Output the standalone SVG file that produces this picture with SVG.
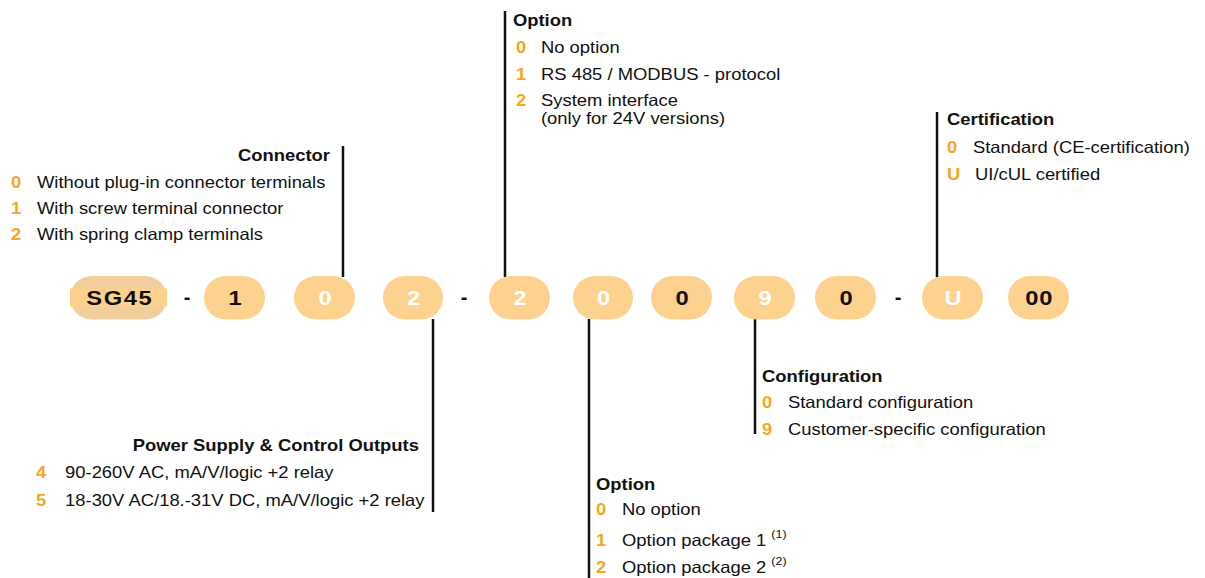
<svg xmlns="http://www.w3.org/2000/svg" width="1205" height="578" viewBox="0 0 1205 578">
<style>
text{font-family:"Liberation Sans",Arial,sans-serif;fill:#111}
.t{font-size:16.3px}
.h{font-size:16.3px;font-weight:bold}
.n{font-size:16.3px;font-weight:bold;fill:#F5A81E}
.sup{font-size:11px}
.pill{fill:#FDD28F}
.pt{font-size:21px;font-weight:bold;text-anchor:middle}
.w{fill:#fff}
.k{fill:#111}
.dash{font-size:20px;font-weight:bold;text-anchor:middle}
.ln{stroke:#111;stroke-width:2.5;fill:none}
</style>
<rect width="1205" height="578" fill="#fff"/>

<g id="connectors">
<line class="ln" x1="343" y1="146" x2="343" y2="277"/>
<line class="ln" x1="433" y1="319" x2="433" y2="512"/>
<line class="ln" x1="505" y1="11" x2="505" y2="277"/>
<line class="ln" x1="589" y1="319" x2="589" y2="578"/>
<line class="ln" x1="755" y1="319" x2="755" y2="434"/>
<line class="ln" x1="937" y1="112" x2="937" y2="277"/>
</g>

<g id="code">
<g id="pill-sg45">
<rect x="70" y="276" width="97" height="43.5" rx="21.75" fill="#F2CE9D"/>
<rect x="70" y="288.5" width="97" height="18" fill="#FDD18C"/>
<text class="pt k" transform="translate(119.8,305) scale(1.13,1)" style="letter-spacing:1.4px">SG45</text>
</g>
<text class="dash" x="187" y="304">-</text>
<g id="pill-1"><rect class="pill" x="204" y="276" width="61" height="43.5" rx="21.75"/><text class="pt k" transform="translate(235,305) scale(1.13,1)">1</text></g>
<g id="pill-2"><rect class="pill" x="294" y="276" width="61" height="43.5" rx="21.75"/><text class="pt w" transform="translate(325,305) scale(1.13,1)">0</text></g>
<g id="pill-3"><rect class="pill" x="383" y="276" width="60" height="43.5" rx="21.75"/><text class="pt w" transform="translate(413.5,305) scale(1.13,1)">2</text></g>
<text class="dash" x="464" y="304">-</text>
<g id="pill-4"><rect class="pill" x="489" y="276" width="61" height="43.5" rx="21.75"/><text class="pt w" transform="translate(520,305) scale(1.13,1)">2</text></g>
<g id="pill-5"><rect class="pill" x="573" y="276" width="60" height="43.5" rx="21.75"/><text class="pt w" transform="translate(603.5,305) scale(1.13,1)">0</text></g>
<g id="pill-6"><rect class="pill" x="651" y="276" width="61" height="43.5" rx="21.75"/><text class="pt k" transform="translate(682,305) scale(1.13,1)">0</text></g>
<g id="pill-7"><rect class="pill" x="734" y="276" width="61" height="43.5" rx="21.75"/><text class="pt w" transform="translate(765,305) scale(1.13,1)">9</text></g>
<g id="pill-8"><rect class="pill" x="815" y="276" width="61" height="43.5" rx="21.75"/><text class="pt k" transform="translate(846,305) scale(1.13,1)">0</text></g>
<text class="dash" x="898" y="304">-</text>
<g id="pill-9"><rect class="pill" x="922" y="276" width="61" height="43.5" rx="21.75"/><text class="pt w" transform="translate(953,305) scale(1.13,1)">U</text></g>
<g id="pill-10"><rect class="pill" x="1008" y="276" width="61" height="43.5" rx="21.75"/><text class="pt k" transform="translate(1039.3,305) scale(1.13,1)" style="letter-spacing:0.7px">00</text></g>
</g>

<g id="connector-legend" transform="translate(11,0) scale(1.13,1) translate(-11,0)">
<text class="h" x="293.3" y="161" text-anchor="end">Connector</text>
<text class="n" x="11" y="188">0</text><text class="t" x="34" y="188">Without plug-in connector terminals</text>
<text class="n" x="11" y="214">1</text><text class="t" x="34" y="214">With screw terminal connector</text>
<text class="n" x="11" y="240">2</text><text class="t" x="34" y="240">With spring clamp terminals</text>
</g>

<g id="option-top-legend" transform="translate(516,0) scale(1.13,1) translate(-516,0)">
<text class="h" x="513.3" y="26">Option</text>
<text class="n" x="516" y="53">0</text><text class="t" x="538.1" y="53">No option</text>
<text class="n" x="516" y="80">1</text><text class="t" x="538.1" y="80">RS 485 / MODBUS - protocol</text>
<text class="n" x="516" y="106">2</text><text class="t" x="538.1" y="106">System interface</text>
<text class="t" x="538.1" y="124">(only for 24V versions)</text>
</g>

<g id="certification-legend" transform="translate(947,0) scale(1.13,1) translate(-947,0)">
<text class="h" x="947" y="125">Certification</text>
<text class="n" x="947" y="153">0</text><text class="t" x="970" y="153">Standard (CE-certification)</text>
<text class="n" x="947" y="180">U</text><text class="t" x="971.8" y="180">UI/cUL certified</text>
</g>

<g id="configuration-legend" transform="translate(762,0) scale(1.13,1) translate(-762,0)">
<text class="h" x="762" y="382">Configuration</text>
<text class="n" x="762" y="408">0</text><text class="t" x="785" y="408">Standard configuration</text>
<text class="n" x="762" y="435">9</text><text class="t" x="785" y="435">Customer-specific configuration</text>
</g>

<g id="power-legend" transform="translate(36,0) scale(1.13,1) translate(-36,0)">
<text class="h" x="374.9" y="451" text-anchor="end">Power Supply &amp; Control Outputs</text>
<text class="n" x="36" y="478">4</text><text class="t" x="61.7" y="478">90-260V AC, mA/V/logic +2 relay</text>
<text class="n" x="36" y="506">5</text><text class="t" x="61.7" y="506">18-30V AC/18.-31V DC, mA/V/logic +2 relay</text>
</g>

<g id="option-bottom-legend" transform="translate(596,0) scale(1.13,1) translate(-596,0)">
<text class="h" x="596" y="490">Option</text>
<text class="n" x="596" y="515">0</text><text class="t" x="619" y="515">No option</text>
<text class="n" x="596" y="546">1</text><text class="t" x="619" y="546">Option package 1 <tspan class="sup" dy="-8">(1)</tspan></text>
<text class="n" x="596" y="573">2</text><text class="t" x="619" y="573">Option package 2 <tspan class="sup" dy="-8">(2)</tspan></text>
</g>
</svg>
